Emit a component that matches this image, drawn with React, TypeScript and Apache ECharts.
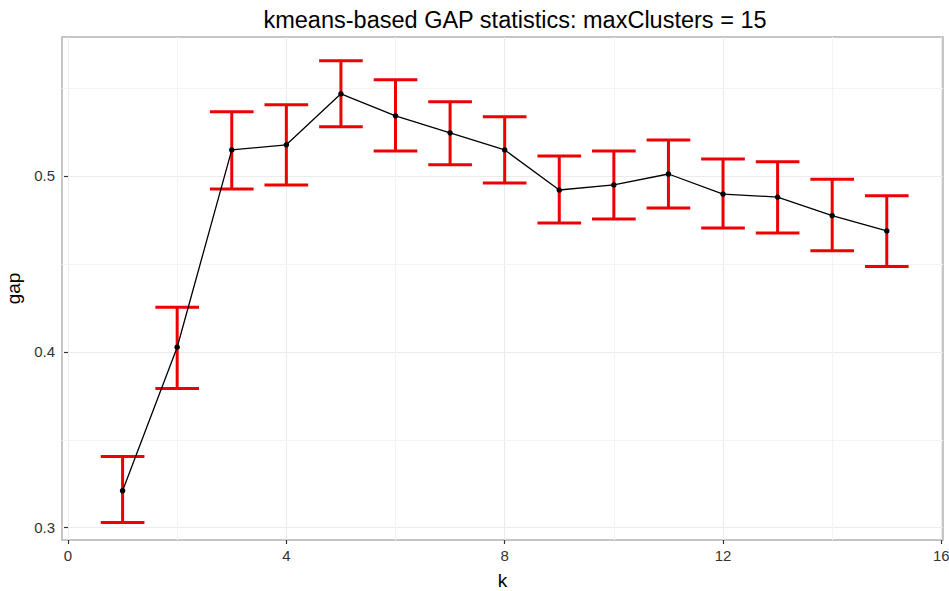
import React, { useEffect, useRef } from "react";
import * as echarts from "echarts";

const kValues = [1, 2, 3, 4, 5, 6, 7, 8, 9, 10, 11, 12, 13, 14, 15];
const gapValues = [0.321, 0.4026, 0.5148, 0.5177, 0.5467, 0.5342, 0.5245, 0.5148, 0.492, 0.4949, 0.5011, 0.4897, 0.488, 0.4774, 0.4687];
const lowerValues = [0.3029, 0.3792, 0.4926, 0.4949, 0.5279, 0.5142, 0.5063, 0.496, 0.4732, 0.4755, 0.4818, 0.4704, 0.4675, 0.4574, 0.4485];
const upperValues = [0.3405, 0.4254, 0.5365, 0.5405, 0.5655, 0.5547, 0.5422, 0.5336, 0.5114, 0.5142, 0.5205, 0.5097, 0.5081, 0.4981, 0.4888];
const xTicks = [0, 4, 8, 12, 16];
const yTicks = [0.3, 0.4, 0.5];
const xMinor = [2, 6, 10, 14];
const yMinor = [0.35, 0.45, 0.55];

export default function App() {
  const ref = useRef<HTMLDivElement>(null);
  useEffect(() => {
    if (!ref.current) return;
    const chart = echarts.init(ref.current, undefined, { renderer: "svg" });
    const font = "'Liberation Sans', Arial, Helvetica, sans-serif";
    const errData = kValues.map((k, i) => [k, lowerValues[i], upperValues[i]]);
    const option: any = {
      animation: false,
      backgroundColor: "#ffffff",
      title: {
        text: "kmeans-based GAP statistics: maxClusters = 15",
        left: 510,
        textAlign: "center",
        top: 3,
        textStyle: { fontFamily: font, fontSize: 23.5, fontWeight: "normal", color: "#000" },
      },
      grid: {
        left: 62,
        right: 6,
        top: 37,
        bottom: 51,
        show: true,
        borderColor: "#b3b3b3",
        borderWidth: 1.5,
        backgroundColor: "#fff",
        outerBoundsMode: "none",
        containLabel: false,
      },
      xAxis: {
        type: "value",
        min: -0.11,
        max: 16.03,
        name: "k",
        nameLocation: "middle",
        nameGap: 31,
        nameTextStyle: { fontFamily: font, fontSize: 19, color: "#000" },
        axisLine: { show: false },
        axisTick: { show: true, customValues: xTicks, length: 4, lineStyle: { color: "#333", width: 1.2 } },
        axisLabel: { customValues: xTicks, fontFamily: font, fontSize: 15, color: "#333", margin: 8 },
        splitLine: { show: true, lineStyle: { color: "#ebebeb", width: 1 } },
      },
      yAxis: {
        type: "value",
        min: 0.293,
        max: 0.579,
        name: "gap",
        nameLocation: "middle",
        nameGap: 32,
        nameRotate: 90,
        nameTextStyle: { fontFamily: font, fontSize: 19, color: "#000" },
        axisLine: { show: false },
        axisTick: { show: true, customValues: yTicks, length: 4, lineStyle: { color: "#333", width: 1.2 } },
        axisLabel: {
          customValues: yTicks,
          fontFamily: font,
          fontSize: 15,
          color: "#333",
          margin: 7,
          formatter: (v: number) => v.toFixed(1),
        },
        splitLine: { show: true, lineStyle: { color: "#ebebeb", width: 1 } },
      },
      series: [
        {
          type: "custom",
          z: 2,
          data: errData,
          renderItem: (params: any, api: any) => {
            const x = api.value(0);
            const lo = api.coord([x, api.value(1)]);
            const hi = api.coord([x, api.value(2)]);
            const half = api.size([0.4, 0])[0];
            const style = { stroke: "#ee0000", lineWidth: 3, fill: "none" };
            return {
              type: "group",
              children: [
                { type: "line", shape: { x1: lo[0], y1: lo[1], x2: hi[0], y2: hi[1] }, style },
                { type: "line", shape: { x1: hi[0] - half, y1: hi[1], x2: hi[0] + half, y2: hi[1] }, style },
                { type: "line", shape: { x1: lo[0] - half, y1: lo[1], x2: lo[0] + half, y2: lo[1] }, style },
              ],
            };
          },
          markLine: {
            silent: true,
            symbol: "none",
            label: { show: false },
            z: 1,
            lineStyle: { color: "#f4f4f4", width: 1, type: "solid" },
            data: [
              ...xMinor.map((v) => ({ xAxis: v })),
              ...yMinor.map((v) => ({ yAxis: v })),
            ],
          },
        },
        {
          type: "line",
          z: 3,
          data: kValues.map((k, i) => [k, gapValues[i]]),
          symbol: "circle",
          symbolSize: 5.5,
          lineStyle: { color: "#000", width: 1.3 },
          itemStyle: { color: "#000" },
        },
      ],
    };
    chart.setOption(option);
    return () => chart.dispose();
  }, []);
  return <div ref={ref} style={{ width: 949, height: 591, position: "absolute", left: 0, top: 0 }} />;
}
